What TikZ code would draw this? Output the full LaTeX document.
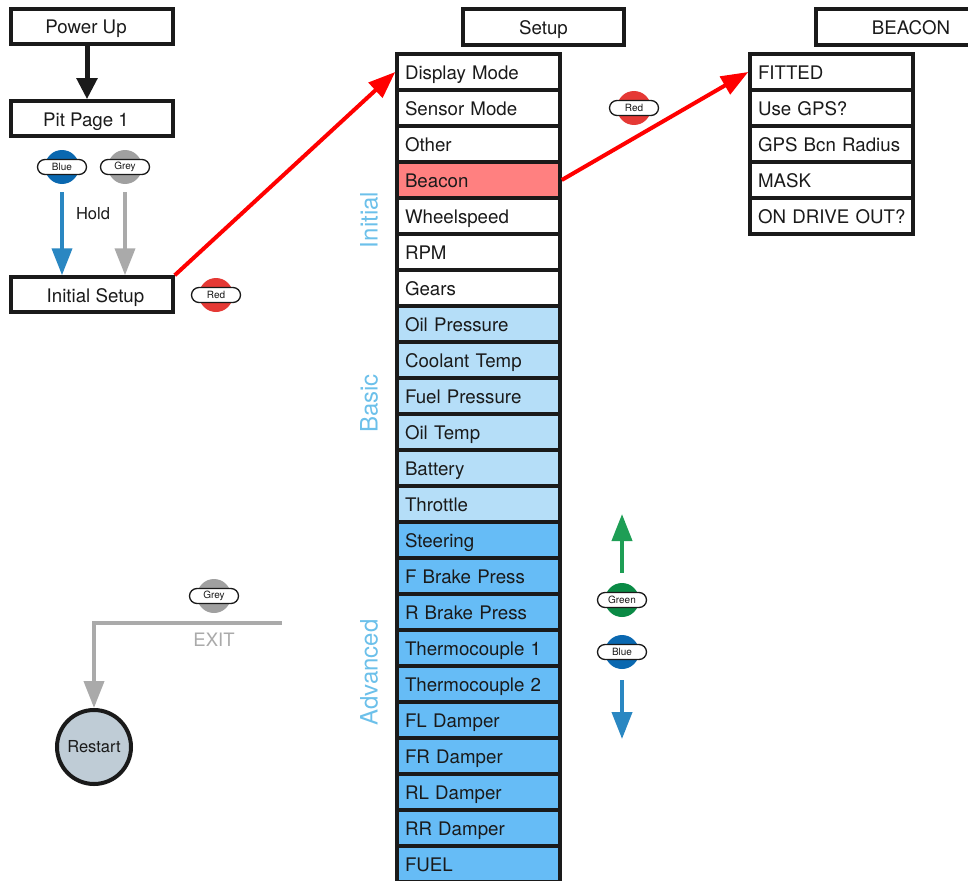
\documentclass[tikz,border=0pt]{standalone}
\usepackage{fontspec}
\setmainfont{TeX Gyre Heros}
\usetikzlibrary{arrows.meta,shapes.misc}
\definecolor{beaconred}{HTML}{FF8080}
\definecolor{basicblue}{HTML}{B5DEF8}
\definecolor{advblue}{HTML}{66BCF6}
\definecolor{labelblue}{HTML}{6CC0EA}
\definecolor{btnblue}{HTML}{0A68B0}
\definecolor{arrowblue}{HTML}{2A87C2}
\definecolor{btngrey}{HTML}{A0A0A0}
\definecolor{arrowgrey}{HTML}{AAAAAA}
\definecolor{btnred}{HTML}{E53935}
\definecolor{btngreen}{HTML}{0A8A45}
\definecolor{arrowgreen}{HTML}{1E9E55}
\definecolor{restartfill}{HTML}{BFCCD6}
\definecolor{ink}{HTML}{1A1A1A}
\newcommand{\mybtn}[4]{%
  \node[btncirc, fill=#3] (#1c) at #2 {};
  \node[pill] (#1) at #2 {#4};}
\begin{document}
\begin{tikzpicture}[x=1pt,y=-1pt,
  box/.style={draw=ink, line width=3.5pt, minimum width=162pt, minimum height=35pt,
    inner sep=0pt, text height=16pt, text depth=1pt,
    font=\fontsize{18.7}{21}\selectfont, text=ink},
  row/.style={draw=ink, line width=3.5pt, minimum width=163pt, minimum height=36pt,
    text width=147pt, inner xsep=8pt, inner ysep=0pt, align=left,
    text height=16pt, text depth=1pt, font=\fontsize{18.7}{21}\selectfont, text=ink},
  btncirc/.style={circle, minimum size=34pt, inner sep=0pt},
  pill/.style={rounded rectangle, draw=ink, line width=1.3pt, fill=white,
    minimum width=49pt, minimum height=15pt, inner sep=0pt,
    font=\fontsize{10}{11}\selectfont, text=ink},
  vlabel/.style={rotate=90, text=labelblue, font=\fontsize{24}{26}\selectfont},
  blackarr/.style={draw=ink, line width=5pt, -{Triangle[length=21pt,width=20pt]}},
  bluearr/.style={draw=arrowblue, line width=4pt, -{Triangle[length=27pt,width=20pt]}},
  greyarr/.style={draw=arrowgrey, line width=4pt, -{Triangle[length=27pt,width=20pt]}},
  greenarr/.style={draw=arrowgreen, line width=4pt, -{Triangle[length=27pt,width=20pt]}},
  redarr/.style={draw=red, line width=4pt, -{Triangle[length=27pt,width=20pt]}},
  plain/.style={text=ink, font=\fontsize{16.5}{18}\selectfont}
]
\useasboundingbox (0,0) rectangle (968,880);

% left column
\node[box] (pu) at (92,26.5) {Power Up\kern12pt};
\node[box] (pp) at (92,118.5) {Pit Page 1\kern12pt};
\node[box] (is) at (92,294.5) {\kern7pt Initial Setup};
\draw[blackarr] ([xshift=-5pt]pu.south) -- ([xshift=-5pt]pp.north);

\mybtn{bb}{(62,167)}{btnblue}{Blue}
\mybtn{gb}{(125,167)}{btngrey}{Grey}
\draw[bluearr] ([yshift=-8pt]bbc.south) -- (bbc.south |- is.north);
\draw[greyarr] ([yshift=-8pt]gbc.south) -- (gbc.south |- is.north);
\node[plain] (hold) at (93,214) {Hold};
\mybtn{rb}{(216,295)}{btnred}{Red}

% setup column
\node[box, minimum width=161pt, minimum height=36pt] (setup) at (543.5,27) {Setup};
\foreach \t/\c [count=\i from 0] in {Display Mode/white, Sensor Mode/white, Other/white,
  Beacon/beaconred, Wheelspeed/white, RPM/white, Gears/white,
  Oil Pressure/basicblue, Coolant Temp/basicblue, Fuel Pressure/basicblue,
  Oil Temp/basicblue, Battery/basicblue, Throttle/basicblue,
  Steering/advblue, F Brake Press/advblue, R Brake Press/advblue,
  Thermocouple 1/advblue, Thermocouple 2/advblue, FL Damper/advblue,
  FR Damper/advblue, RL Damper/advblue, RR Damper/advblue, FUEL/advblue}
  \node[row, fill=\c] (s\i) at (478.5,72+36*\i) {\mbox{\t}};

\node[vlabel] (linit) at (369,220) {Initial};
\node[vlabel] (lbasic) at (369,403.5) {Basic};
\node[vlabel] (ladv) at (369,672.5) {Advanced};

\draw[redarr] (is.north east) -- (s0.west);

% beacon column
\node[box, minimum width=190pt, minimum height=36pt] (beacon) at (911,27) {BEACON};
\foreach \t [count=\i from 0] in {FITTED, Use GPS?, GPS Bcn Radius, MASK, ON DRIVE OUT?}
  \node[row, fill=white] (b\i) at (831.5,72+36*\i) {\mbox{\t}};
\mybtn{rb2}{(634,108)}{btnred}{Red}
\draw[redarr] (s3.east) -- (b0.west);

% up / down
\mybtn{gnb}{(622,600)}{btngreen}{Green}
\mybtn{bdb}{(622,652)}{btnblue}{Blue}
\coordinate (gtop) at (622,514);
\coordinate (bbot) at (622,739);
\draw[greenarr] ([yshift=10pt]gnbc.north) -- (gtop);
\draw[bluearr] ([yshift=-11pt]bdbc.south) -- (bbot);

% exit
\mybtn{xb}{(214,596)}{btngrey}{Grey}
\coordinate (ex) at (282,623);
\node[circle, draw=ink, line width=4pt, fill=restartfill, minimum size=74pt, inner sep=0pt,
  text=ink, font=\fontsize{16.5}{18}\selectfont] (rs) at (94,747) {Restart};
\draw[greyarr] (ex) -| (rs.north);
\node[text=arrowgrey, font=\fontsize{18.5}{20}\selectfont] (exit) at (214,640) {EXIT};
\end{tikzpicture}
\end{document}
